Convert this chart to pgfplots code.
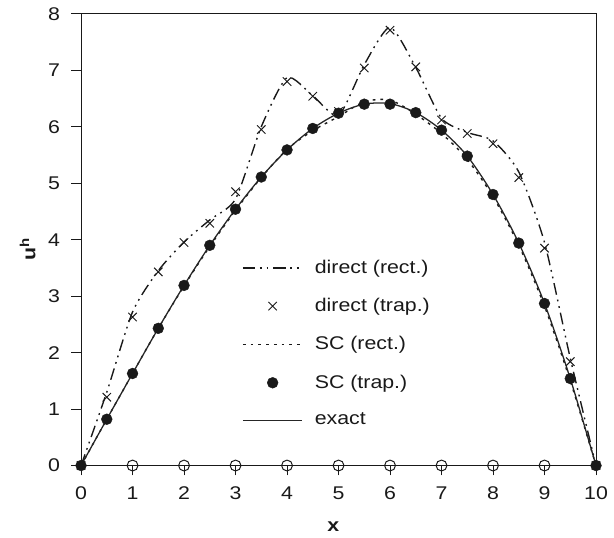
\documentclass[border=0pt]{standalone}
\usepackage{fontspec}
\setmainfont[FakeStretch=1.16]{Liberation Sans}
\usepackage{pgfplots}
\pgfplotsset{compat=1.18}

\definecolor{ink}{gray}{0.1}

\begin{document}
\fontsize{18.6}{22}\selectfont
\begin{tikzpicture}
\begin{axis}[
  scale only axis,
  width=521pt, height=457pt,
  xmin=0, xmax=10, ymin=0, ymax=8,
  xtick={0,1,...,10}, ytick={0,1,...,8},
  tick align=outside, tick pos=left,
  major tick length=10pt,
  tick style={ink, line width=0.9pt},
  axis line style={ink, line width=1pt},
  /pgf/number format/assume math mode=true,
  ticklabel style={font=\fontsize{18.6}{22}\selectfont, text=ink},
  xticklabel style={yshift=-5pt},
  yticklabel style={xshift=-5pt},
  xlabel={\textbf{x}},
  ylabel={\textbf{u\textsuperscript{h}}},
  every axis x label/.style={at={(axis description cs:0.49,0)},
    anchor=center, yshift=-62pt},
  every axis y label/.style={at={(axis description cs:0,0.48)},
    rotate=90, anchor=center, yshift=54pt},
  label style={font=\fontsize{18.6}{22}\selectfont, text=ink},
  clip=false,
  legend image code/.code={%
    \draw[mark repeat=2,mark phase=2,#1]
      plot coordinates {(0pt,0pt) (30pt,0pt) (60pt,0pt)};},
  legend cell align=left,
  legend style={at={(axis cs:3.07,3.70)}, anchor=north west,
    draw=none, fill=none, row sep=20.5pt,
    font=\fontsize{18.6}{22}\selectfont, text=ink,
    nodes={inner sep=1pt},
    /tikz/every odd column/.append style={column sep=11pt}},
]

% direct solution, rectangle rule
\addplot[ink, line width=1.4pt, smooth, tension=0.4,
  dash pattern=on 12pt off 5pt on 1.8pt off 5pt on 1.8pt off 5pt]
  coordinates {
  (0,0) (0.5,1.3) (1,2.72) (1.5,3.45) (2,3.96) (2.5,4.35) (3,4.72)
  (3.5,6.0) (4,6.87) (4.5,6.55) (5,6.2) (5.5,7.1) (6,7.76) (6.5,7.05)
  (7,6.15) (7.5,5.9) (8,5.75) (8.5,5.2) (9,3.95) (9.5,1.9) (10,0)};
\addlegendentry{direct (rect.)}

% direct solution, trapezoidal rule
\addplot[ink, only marks, mark=x, mark size=6pt, mark options={line width=1pt}]
  coordinates {
  (0,0) (0.5,1.21) (1,2.63) (1.5,3.43) (2,3.95) (2.5,4.29) (3,4.85)
  (3.5,5.95) (4,6.8) (4.5,6.54) (5,6.27) (5.5,7.04) (6,7.71) (6.5,7.06)
  (7,6.12) (7.5,5.88) (8,5.7) (8.5,5.1) (9,3.85) (9.5,1.84) (10,0)};
\addlegendentry{direct (trap.)}

% stabilized (SC) solution, rectangle rule
\addplot[ink, line width=1.4pt, smooth, dash pattern=on 2.8pt off 5pt]
  coordinates {
  (0,0) (0.5,0.82) (1,1.63) (1.5,2.43) (2,3.18) (2.5,3.88) (3,4.52)
  (3.5,5.1) (4,5.6) (4.5,5.93) (5,6.18) (5.5,6.44) (6,6.47) (6.5,6.22)
  (7,5.88) (7.5,5.42) (8,4.76) (8.5,3.9) (9,2.82) (9.5,1.5) (10,0)};
\addlegendentry{SC (rect.)}

% stabilized (SC) solution, trapezoidal rule
\addplot[ink, only marks, mark=*, mark size=5.5pt]
  coordinates {
  (0,0) (0.5,0.82) (1,1.63) (1.5,2.43) (2,3.19) (2.5,3.9) (3,4.54)
  (3.5,5.11) (4,5.59) (4.5,5.97) (5,6.24) (5.5,6.4) (6,6.4) (6.5,6.25)
  (7,5.94) (7.5,5.48) (8,4.8) (8.5,3.94) (9,2.87) (9.5,1.54) (10,0)};
\addlegendentry{SC (trap.)}

% exact solution
\addplot[black!85, line width=1.3pt, smooth]
  coordinates {
  (0,0) (0.5,0.82) (1,1.63) (1.5,2.43) (2,3.19) (2.5,3.9) (3,4.54)
  (3.5,5.11) (4,5.59) (4.5,5.97) (5,6.24) (5.5,6.4) (6,6.41) (6.5,6.25)
  (7,5.94) (7.5,5.48) (8,4.8) (8.5,3.94) (9,2.87) (9.5,1.54) (10,0)};
\addlegendentry{exact}

% interior nodes of the mesh
\addplot[ink, only marks, mark=o, mark size=5.5pt,
  mark options={fill=white, line width=1pt}, forget plot]
  coordinates {(1,0) (2,0) (3,0) (4,0) (5,0) (6,0) (7,0) (8,0) (9,0)};

% page margins around the axis
\path (rel axis cs:0,0) ++(-82pt,-69pt) (rel axis cs:1,1) ++(11pt,14pt);

\end{axis}
\end{tikzpicture}
\end{document}
